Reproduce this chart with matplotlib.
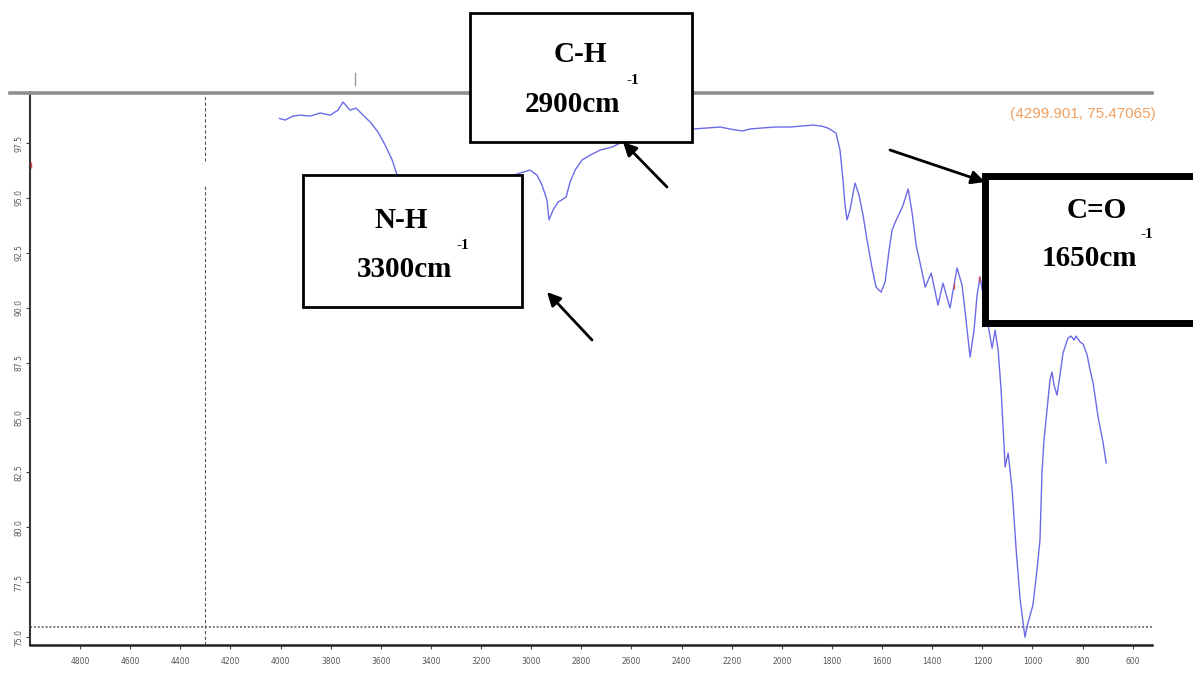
import matplotlib
matplotlib.use("Agg")
import matplotlib.pyplot as plt
from matplotlib.patches import Rectangle
from matplotlib.lines import Line2D
import numpy as np

# FTIR spectrum (wavenumber cm^-1, transmittance %)
WAVENUMBER = [
    4005, 3982, 3950, 3922, 3882, 3842, 3802, 3771, 3751, 3723, 3699, 3675,
    3643, 3611, 3583, 3555, 3535, 3450, 3350, 3250, 3150, 3080, 3032, 3005,
    2977, 2957, 2937, 2929, 2913, 2893, 2873, 2861, 2845, 2825, 2797, 2765,
    2725, 2677, 2645, 2625, 2500, 2354, 2306, 2246, 2207, 2159, 2127, 2087,
    2027, 1967, 1927, 1875, 1840, 1816, 1784, 1768, 1756, 1748, 1740, 1728,
    1708, 1692, 1676, 1660, 1640, 1624, 1604, 1588, 1572, 1560, 1544, 1528,
    1516, 1496, 1480, 1464, 1444, 1428, 1404, 1377, 1357, 1329, 1301, 1281,
    1265, 1249, 1233, 1221, 1209, 1177, 1161, 1149, 1137, 1125, 1109, 1097,
    1081, 1065, 1049, 1030, 1018, 998, 982, 970, 962, 954, 942, 930, 922,
    914, 902, 890, 878, 858, 846, 834, 826, 810, 798, 782, 770, 758, 738,
    718, 706,
]
TRANSMITTANCE = [
    98.62, 98.55, 98.73, 98.77, 98.73, 98.87, 98.77, 99.00, 99.37, 99.00, 99.09, 98.82,
    98.46, 98.00, 97.41, 96.73, 96.04, 95.30, 94.90, 95.00, 95.50, 96.00, 96.18, 96.27,
    96.04, 95.59, 94.90, 94.00, 94.45, 94.81, 94.95, 95.04, 95.72, 96.27, 96.73, 96.95,
    97.18, 97.32, 97.50, 97.59, 97.90, 98.14, 98.18, 98.23, 98.14, 98.05, 98.14, 98.18,
    98.23, 98.23, 98.27, 98.32, 98.27, 98.18, 97.96, 97.18, 95.82, 94.68, 94.00, 94.45,
    95.68, 95.13, 94.22, 93.08, 91.81, 90.94, 90.71, 91.17, 92.63, 93.54, 93.99, 94.36,
    94.68, 95.41, 94.31, 92.86, 91.81, 90.94, 91.58, 90.12, 91.12, 89.99, 91.81, 91.03,
    89.44, 87.75, 88.98, 90.58, 91.40, 89.21, 88.16, 88.98, 88.07, 86.25, 82.75, 83.38,
    81.70, 78.97, 76.69, 75.00, 75.64, 76.46, 78.06, 79.42, 82.47, 83.98, 85.34, 86.71, 87.07,
    86.48, 86.02, 86.94, 87.94, 88.62, 88.71, 88.53, 88.71, 88.44, 88.35, 87.85, 87.16, 86.57, 85.02,
    83.84, 82.93,
]

# small red peak-pick marks
RED_WN = [4995, 1312, 1214]
RED_T = [96.5, 91.0, 91.3]

CURSOR_X = 4299.901
CURSOR_Y = 75.47065

X_TICKS = list(range(4800, 599, -200))
Y_TICKS = [75.0, 77.5, 80.0, 82.5, 85.0, 87.5, 90.0, 92.5, 95.0, 97.5]

# annotation boxes: (label, wavenumber text, left, top, right, bottom px, border width)
BOXES = [
    ("C-H", "2900cm", (470, 13, 692, 142), 2.0),
    ("N-H", "3300cm", (303, 175, 522, 307), 2.0),
    ("C=O", "1650cm", (985, 176, 1205, 323), 5.0),
]
W, H = 1193, 679


def fx(x):
    return x / W


def fy(y):
    return 1 - y / H


fig = plt.figure(figsize=(W / 100, H / 100), dpi=100)
ax = fig.add_axes([fx(30), fy(645), fx(1152) - fx(30), fy(93) - fy(645)])

ax.plot(WAVENUMBER, TRANSMITTANCE, color="#6b6be8", linewidth=1.0, zorder=3)
ax.plot(RED_WN, RED_T, linestyle="none", marker="|", markersize=5, color="#e05050", zorder=4)

ax.axhline(CURSOR_Y, color="#777777", linestyle=(0, (1, 1)), linewidth=1.4, zorder=2)
ax.axvline(CURSOR_X, ymin=0, ymax=0.833, color="#555555", linestyle=(0, (3, 2)), linewidth=0.8)
ax.axvline(CURSOR_X, ymin=0.876, ymax=1, color="#555555", linestyle=(0, (3, 2)), linewidth=0.8)

ax.set_xlim(5000, 523)
ax.set_ylim(74.64, 99.78)
ax.set_xticks(X_TICKS)
ax.set_xticklabels([str(v) for v in X_TICKS])
ax.set_yticks(Y_TICKS)
ax.set_yticklabels([f"{v:.1f}" for v in Y_TICKS], rotation=90, va="center")
ax.tick_params(axis="both", direction="out", length=3, width=0.8, colors="#444444",
               labelsize=5.5, labelcolor="#555555")
ax.tick_params(axis="x", pad=6)
ax.tick_params(axis="y", pad=2)

ax.spines["right"].set_visible(False)
ax.spines["top"].set_color("#8f8f8f")
ax.spines["top"].set_linewidth(2.6)
ax.spines["left"].set_color("#333333")
ax.spines["left"].set_linewidth(1.5)
ax.spines["bottom"].set_color("#222222")
ax.spines["bottom"].set_linewidth(1.8)

# top rule continues a little left of the plot, small cursor tick above it
fig.add_artist(Line2D([fx(10), fx(31)], [fy(93), fy(93)], color="#8f8f8f", linewidth=2.6))
fig.add_artist(Line2D([fx(355), fx(355)], [fy(73), fy(85)], color="#999999", linewidth=1.0))

ax.text(1.003, 0.962, f"({CURSOR_X}, {CURSOR_Y})", transform=ax.transAxes, ha="right",
        va="center", fontsize=11, color="#f0a060", family="Liberation Sans")

serif = dict(family="Liberation Serif", weight="bold", color="black")
for label, wn_text, (l, t, r, b), lw in BOXES:
    fig.add_artist(Rectangle((fx(l), fy(b)), fx(r) - fx(l), fy(t) - fy(b),
                             transform=fig.transFigure, facecolor="white",
                             edgecolor="black", linewidth=lw, zorder=5))

text_pos = {
    "C-H": ((580, 55), (572, 105), (633, 80)),
    "N-H": ((401, 220), (405, 270), (463, 245)),
    "C=O": ((1097, 210), (1089, 258), (1147, 235)),
}
for label, wn_text, _, _ in BOXES:
    (lx, ly), (wx, wy), (sx, sy) = text_pos[label]
    fig.text(fx(lx), fy(ly), label, ha="center", va="center", fontsize=21, zorder=6, **serif)
    fig.text(fx(wx), fy(wy), wn_text, ha="center", va="center", fontsize=21, zorder=6, **serif)
    fig.text(fx(sx), fy(sy), "-1", ha="center", va="center", fontsize=11, zorder=6, **serif)

arrows = [((667, 187), (623, 142)), ((592, 340), (547, 292)), ((890, 150), (985, 182))]
for (x0, y0), (x1, y1) in arrows:
    fig.add_artist(matplotlib.patches.FancyArrowPatch(
        (fx(x0), fy(y0)), (fx(x1), fy(y1)), transform=fig.transFigure,
        arrowstyle="-|>", mutation_scale=20, color="black", linewidth=2.0,
        shrinkA=0, shrinkB=0, zorder=7))

fig.savefig("out.png", dpi=100)
